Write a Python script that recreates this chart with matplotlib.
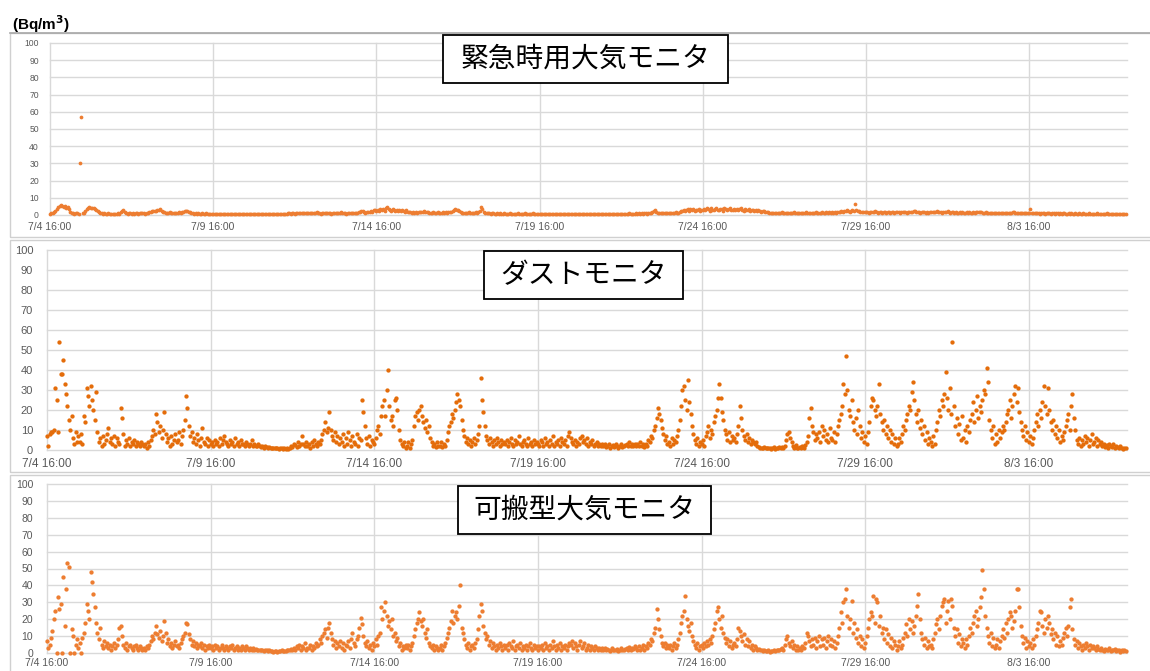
import numpy as np
import matplotlib.pyplot as plt
from matplotlib.patches import Rectangle

# ---- axis labels / titles -------------------------------------------------
tick_days = [0, 5, 10, 15, 20, 25, 30]
tick_labels = ['7/4 16:00', '7/9 16:00', '7/14 16:00', '7/19 16:00',
               '7/24 16:00', '7/29 16:00', '8/3 16:00']
y_ticks = list(range(0, 101, 10))
titles = ['緊急時用大気モニタ', 'ダストモニタ', '可搬型大気モニタ']
unit_label = r'(Bq/m$^{\bf 3}$)'

# ---- hourly concentrations (Bq/m3), one row per day from 7/4 16:00 --------
emergency_air = [
    [0.8, 1, 1.2, 1.5, 2.5, 3.5, 4.5, 5, 5.8, 5, 4.5, 5, 4, 4.5, 3.5, 2, 1.2, 1, 0.8, 1, 1.2, 0.8, 30, 57],
    [1, 1.2, 2.5, 3.5, 4, 4.4, 4, 3.8, 4, 3.5, 3, 2.5, 1.8, 1.2, 1, 0.8, 1, 0.7, 0.8, 1, 0.7, 0.8, 0.6, 0.8],
    [0.8, 0.7, 1, 0.8, 1.5, 2.5, 3, 2, 1, 0.8, 1, 1.2, 0.8, 1, 0.7, 1, 1.2, 0.8, 1, 0.9, 1.2, 1, 0.8, 1],
    [1.2, 1.5, 2, 2.2, 2.5, 2.2, 2.5, 2.8, 3, 3.3, 2.5, 2, 1.5, 1.2, 1, 1.3, 1.5, 1.2, 1, 1.4, 1.2, 1, 1.3, 1.5],
    [1.2, 1.5, 1.8, 2.2, 2.5, 2.3, 2, 1.5, 1.2, 1, 0.8, 1, 0.8, 1, 0.7, 0.8, 1, 0.8, 0.7, 0.9, 0.8, 0.6, 0.8, 0.7],
    [0.7, 0.6, 0.8, 0.5, 0.7, 0.6, 0.8, 0.5, 0.6, 0.7, 0.5, 0.6, 0.8, 0.6, 0.5, 0.7, 0.6, 0.5, 0.7, 0.6, 0.8, 0.5, 0.6, 0.7],
    [0.5, 0.6, 0.7, 0.5, 0.6, 0.5, 0.7, 0.6, 0.5, 0.6, 0.5, 0.7, 0.6, 0.5, 0.6, 0.7, 0.5, 0.6, 0.5, 0.6, 0.7, 0.5, 0.6, 0.5],
    [0.6, 0.5, 0.7, 0.6, 0.8, 0.6, 0.7, 0.9, 1, 0.8, 1.2, 1, 0.8, 1.1, 1.3, 1, 1.2, 0.9, 1.1, 1.4, 1, 1.2, 0.9, 1.1],
    [1, 1.3, 0.9, 1.2, 1.5, 1, 1.2, 0.8, 1.1, 1.4, 1, 1.3, 0.9, 1.2, 1, 0.8, 1.1, 1.3, 1, 1.2, 0.9, 1.1, 1.5, 1.2],
    [1, 1.2, 0.8, 1.1, 1, 1.3, 0.9, 1.2, 1, 1.4, 1.2, 1.5, 2, 2.5, 2.2, 1.5, 1.2, 1.8, 1.5, 2, 2.5, 2, 2.8, 3],
    [2.5, 3, 2.2, 3.5, 2.8, 3.2, 2.5, 3.8, 4.5, 3.5, 3, 2.5, 3.2, 2.8, 2.2, 3, 2.5, 2.8, 2.2, 3, 2.5, 2, 2.8, 2],
    [1.8, 1.5, 1.2, 1.6, 1.3, 1.5, 1.2, 1.8, 1.5, 1.7, 2, 2.2, 1.8, 1.5, 1.6, 1.2, 1.4, 1.1, 1.5, 1.3, 1.2, 1.5, 1.1, 1.3],
    [1.2, 1.5, 1.3, 1.6, 1.4, 1.8, 1.5, 2, 2.5, 3, 3.3, 2.8, 3, 2.2, 1.5, 1.2, 1.3, 1.1, 1.4, 1.2, 1.5, 1.3, 1.2, 1.4],
    [1.3, 1.5, 1.2, 1.6, 2.5, 4.4, 3.5, 1.8, 1.2, 1, 0.9, 1, 0.8, 0.9, 1, 0.8, 0.7, 0.9, 0.8, 1, 0.7, 0.8, 0.9, 0.7],
    [0.8, 0.7, 0.9, 0.6, 0.8, 0.7, 0.6, 0.8, 0.9, 0.7, 0.6, 0.8, 0.7, 0.9, 0.6, 0.7, 0.8, 0.6, 0.7, 0.9, 0.7, 0.6, 0.8, 0.7],
    [0.6, 0.7, 0.5, 0.8, 0.6, 0.7, 0.5, 0.6, 0.8, 0.7, 0.6, 0.5, 0.7, 0.6, 0.8, 0.5, 0.6, 0.7, 0.6, 0.5, 0.7, 0.6, 0.5, 0.6],
    [0.5, 0.6, 0.7, 0.5, 0.6, 0.5, 0.7, 0.6, 0.5, 0.6, 0.7, 0.5, 0.6, 0.5, 0.7, 0.6, 0.5, 0.6, 0.5, 0.7, 0.6, 0.5, 0.6, 0.7],
    [0.6, 0.5, 0.7, 0.6, 0.5, 0.6, 0.7, 0.5, 0.6, 0.8, 0.6, 0.7, 0.5, 0.6, 0.8, 0.7, 0.6, 0.7, 0.9, 0.7, 0.8, 0.6, 0.8, 0.9],
    [0.8, 0.9, 0.7, 1, 0.8, 0.9, 1.1, 0.8, 1, 0.9, 1.2, 1.5, 2.5, 2.9, 2, 1.3, 1.1, 1.4, 1.2, 1, 1.3, 1.1, 1.4, 1.2],
    [1.2, 1.4, 1.1, 1.3, 1.5, 1.2, 1.4, 1.8, 2.2, 2.5, 3, 2.4, 2.8, 3.5, 2.6, 3.2, 2.8, 3.6, 2.5, 3, 2.7, 3.4, 2.6, 3.1],
    [2.8, 3.5, 3, 4, 3.2, 2.6, 3.8, 3.1, 2.7, 3.4, 4.2, 3, 2.8, 3.6, 3.2, 2.5, 3.8, 3.3, 2.9, 3.5, 4, 3.1, 2.7, 3.4],
    [3, 3.6, 2.8, 3.3, 4, 3.1, 2.6, 3.5, 3, 2.8, 3.3, 2.5, 3, 2.7, 2.2, 2.8, 2.5, 3, 2.2, 2, 2.5, 2.2, 2, 1.8],
    [1.5, 1.2, 1.4, 1.1, 1.3, 1, 1.2, 1.4, 1.1, 1.3, 1.5, 1.2, 1, 1.3, 1.1, 1.4, 1.2, 1, 1.3, 1.5, 1.2, 1.1, 1.4, 1.2],
    [1.3, 1.1, 1.4, 1.2, 1.5, 1.3, 1, 1.2, 1.4, 1.1, 1.3, 1.6, 1.2, 1.4, 1.1, 1.3, 1.5, 1.2, 1.4, 1.6, 1.3, 1.5, 1.2, 1.6],
    [1.4, 1.6, 1.3, 1.8, 1.5, 2, 2.2, 1.8, 2.5, 2.2, 2.8, 2.4, 2, 2.6, 3, 2.4, 6.2, 2.8, 2.2, 2.5, 1.8, 1.5, 2, 1.6],
    [1.5, 1.8, 1.4, 1.6, 2, 1.5, 1.7, 2.2, 1.6, 1.4, 1.8, 1.5, 1.3, 1.6, 1.9, 1.4, 1.7, 1.5, 1.3, 1.6, 1.8, 1.4, 1.5, 1.7],
    [1.5, 1.3, 1.7, 1.5, 1.8, 1.6, 1.4, 1.9, 1.7, 2, 1.6, 2.5, 2.2, 1.8, 1.5, 1.7, 1.4, 1.6, 1.8, 1.5, 1.3, 1.6, 1.4, 1.7],
    [1.5, 1.8, 1.6, 2, 2.5, 1.8, 1.5, 1.7, 1.4, 1.6, 2, 1.8, 2.2, 1.6, 1.4, 1.7, 1.5, 1.3, 1.6, 1.4, 1.2, 1.5, 1.3, 1.6],
    [1.4, 1.2, 1.5, 1.3, 1.6, 1.4, 1.2, 1.5, 1.3, 1.6, 1.8, 1.5, 2, 1.7, 1.4, 1.2, 1.5, 1.3, 1.1, 1.4, 1.2, 1.3, 1.1, 1.4],
    [1.2, 1.1, 1.3, 1, 1.2, 1.4, 1.1, 1.3, 1, 1.2, 1.1, 1.3, 1.5, 1.8, 1.3, 1.1, 1.2, 1, 1.3, 1.1, 1.2, 1, 1.3, 1.1],
    [1.2, 3.5, 1.3, 1, 1.2, 0.9, 1.1, 1, 0.8, 1.1, 0.9, 1, 0.8, 1.1, 0.9, 1, 0.8, 0.9, 1, 0.8, 0.9, 1.1, 0.8, 0.9],
    [0.8, 0.9, 1, 0.8, 0.7, 0.9, 0.8, 1, 0.7, 0.8, 0.9, 0.7, 0.8, 1, 0.8, 0.7, 0.9, 0.8, 0.7, 0.8, 0.9, 0.7, 0.8, 0.7],
    [0.8, 0.7, 0.9, 0.6, 0.8, 0.7, 0.6, 0.8, 0.7, 0.9, 0.6, 0.7, 0.8, 0.6, 0.7, 0.8, 0.6, 0.7, 0.8, 0.6, 0.7, 0.6, 0.8, 0.7],
]

dust = [
    [7, 2, 8, 9, 9, 10, 31, 25, 9, 54, 38, 38, 45, 33, 28, 22, 15, 10, 17, 6, 3, 9, 4, 7],
    [4, 8, 3, 17, 14, 31, 27, 22, 32, 25, 20, 15, 29, 9, 4, 6, 2, 7, 3, 5, 8, 11, 4, 6],
    [3, 7, 2, 6, 4, 3, 21, 16, 8, 2, 5, 3, 6, 2, 4, 3, 5, 2, 4, 3, 2, 4, 3, 2],
    [3, 1, 4, 2, 5, 7, 10, 8, 18, 14, 9, 12, 6, 10, 19, 8, 4, 6, 2, 7, 3, 5, 8, 4],
    [5, 9, 3, 7, 10, 15, 27, 21, 12, 7, 9, 4, 6, 3, 8, 5, 2, 6, 11, 4, 3, 6, 2, 5],
    [3, 4, 2, 5, 3, 4, 2, 6, 3, 5, 7, 4, 3, 2, 5, 3, 4, 2, 6, 3, 4, 2, 5, 3],
    [3, 2, 4, 3, 2, 3, 5, 2, 3, 2, 2, 3, 2, 1.5, 2, 1, 2, 1.5, 1, 1.5, 1, 0.8, 1.2, 1],
    [0.8, 1, 0.6, 1.2, 0.8, 0.5, 1, 0.7, 0.9, 0.6, 1.2, 2, 1.5, 3, 2.5, 1.5, 4, 2, 3, 7, 3, 2, 4, 2],
    [3, 1, 4, 2, 5, 3, 2, 4, 3, 5, 8, 10, 14, 9, 11, 19, 10, 7, 5, 9, 4, 7, 3, 6],
    [4, 8, 2, 6, 3, 9, 5, 2, 7, 4, 3, 8, 2, 6, 5, 25, 19, 12, 6, 3, 7, 2, 5, 4],
    [3, 6, 10, 12, 8, 17, 22, 25, 17, 30, 40, 22, 15, 17, 12, 25, 26, 20, 10, 5, 3, 2, 4, 1],
    [2, 4, 1, 3, 5, 12, 17, 19, 15, 20, 22, 17, 14, 11, 15, 9, 12, 6, 4, 2, 3, 1.5, 4, 2],
    [2, 4, 1.5, 3, 2, 5, 9, 12, 14, 18, 16, 20, 24, 28, 25, 22, 15, 10, 7, 4, 6, 3, 5, 2],
    [4, 6, 3, 5, 8, 12, 36, 25, 19, 12, 7, 5, 3, 6, 4, 2, 5, 3, 6, 4, 2, 5, 3, 4],
    [3, 5, 2, 4, 6, 3, 2, 5, 3, 4, 7, 3, 2, 4, 5, 3, 2, 6, 3, 4, 2, 5, 3, 4],
    [3, 2, 5, 4, 2, 6, 3, 4, 2, 5, 3, 7, 2, 4, 3, 5, 2, 6, 4, 3, 5, 2, 7, 9],
    [6, 4, 3, 5, 2, 4, 3, 6, 7, 4, 5, 3, 6, 2, 4, 3, 5, 2, 3, 4, 2, 3, 2, 3],
    [2, 3, 1.5, 2, 3, 1, 2, 2.5, 1.5, 3, 2, 1, 2, 3, 1.5, 2, 2.5, 3, 2, 4, 2, 3, 2, 3],
    [2, 3, 2, 4, 2, 3, 1.5, 3, 2, 5, 4, 7, 6, 10, 12, 16, 21, 18, 15, 11, 8, 5, 7, 3],
    [4, 2, 6, 3, 5, 4, 7, 10, 15, 22, 30, 32, 25, 20, 35, 24, 18, 12, 8, 5, 3, 6, 2, 4],
    [3, 5, 2, 7, 9, 12, 6, 10, 8, 14, 17, 20, 26, 33, 26, 19, 15, 10, 8, 5, 9, 4, 7, 5],
    [6, 4, 8, 12, 22, 16, 10, 7, 5, 8, 4, 6, 3, 5, 4, 3, 4, 2, 1.5, 1, 1.2, 0.8, 1.5, 1],
    [1, 0.8, 1.2, 0.6, 1, 1.5, 0.7, 1, 0.8, 1.3, 0.9, 1.5, 1, 2, 5, 8, 9, 6, 4, 2, 1, 2.5, 1, 0.8],
    [1.5, 0.8, 2, 1, 2.5, 4, 7, 16, 21, 12, 9, 5, 8, 6, 9, 4, 12, 7, 10, 5, 8, 4, 11, 6],
    [5, 9, 4, 8, 12, 15, 18, 22, 33, 28, 47, 30, 20, 17, 25, 14, 10, 16, 8, 20, 12, 6, 9, 4],
    [7, 3, 9, 14, 22, 26, 25, 20, 17, 22, 33, 18, 14, 10, 15, 8, 12, 6, 10, 4, 8, 3, 6, 2],
    [3, 6, 4, 8, 12, 10, 15, 18, 22, 20, 29, 34, 25, 18, 14, 20, 11, 15, 8, 12, 5, 9, 3, 6],
    [4, 2, 7, 3, 10, 14, 20, 17, 25, 22, 28, 39, 26, 20, 31, 18, 54, 22, 12, 16, 8, 13, 5, 17],
    [6, 10, 4, 12, 9, 15, 18, 24, 14, 20, 27, 16, 22, 19, 25, 30, 28, 41, 34, 15, 10, 6, 12, 3],
    [8, 4, 10, 6, 9, 12, 10, 14, 18, 20, 25, 16, 22, 28, 32, 24, 31, 19, 14, 10, 7, 12, 5, 9],
    [4, 7, 3, 6, 10, 14, 18, 12, 20, 16, 24, 32, 22, 18, 31, 20, 14, 10, 15, 8, 12, 6, 10, 4],
    [7, 5, 9, 12, 15, 18, 10, 22, 28, 16, 10, 5, 3, 6, 2, 5, 3, 7, 4, 6, 2, 5, 8, 3],
    [4, 6, 2, 5, 3, 4, 2, 3, 1.5, 2.5, 1, 3, 2, 1.5, 3, 1, 2, 1.5, 0.8, 2, 1, 0.7, 1.2, 0.9],
]

portable_air = [
    [7, 3, 5, 9, 13, 20, 25, 0, 33, 26, 29, 0, 45, 16, 38, 53, 51, 0, 14, 10, 0, 5, 8, 3],
    [6, 0, 9, 12, 18, 29, 25, 20, 48, 42, 35, 27, 18, 12, 8, 15, 5, 3, 7, 4, 6, 3, 5, 2],
    [4, 6, 3, 5, 8, 15, 16, 10, 5, 3, 6, 2, 4, 5, 3, 2, 4, 5, 3, 2, 4, 3, 2, 3],
    [2, 4, 3, 5, 7, 10, 8, 12, 16, 11, 9, 13, 7, 10, 19, 12, 6, 8, 4, 6, 3, 5, 7, 4],
    [5, 3, 6, 8, 10, 12, 18, 17, 11, 8, 5, 7, 4, 6, 3, 5, 4, 6, 3, 5, 2, 4, 3, 5],
    [3, 4, 2, 5, 3, 4, 2, 3, 5, 3, 2, 4, 3, 2, 4, 3, 5, 2, 3, 4, 2, 3, 2, 4],
    [3, 2, 4, 3, 2, 3, 2, 3, 2, 2.5, 2, 1.5, 2, 1.5, 2, 1, 1.5, 2, 1, 1.5, 1, 1.2, 0.8, 1],
    [1, 0.8, 1.2, 1, 1.5, 0.9, 1.3, 1, 1.5, 2, 1.5, 2.5, 2, 3, 2, 4, 3, 5, 2, 4, 3, 6, 2, 3],
    [3, 5, 2, 4, 3, 6, 4, 5, 8, 6, 10, 12, 14, 9, 15, 18, 12, 8, 5, 7, 3, 6, 4, 7],
    [3, 6, 2, 5, 4, 7, 3, 8, 12, 6, 4, 8, 10, 15, 21, 17, 10, 6, 4, 7, 3, 5, 2, 6],
    [4, 8, 5, 10, 12, 27, 20, 25, 30, 22, 16, 19, 14, 20, 10, 12, 7, 9, 4, 6, 2, 4, 3, 5],
    [3, 5, 2, 4, 6, 10, 14, 18, 20, 24, 19, 16, 20, 12, 9, 14, 6, 4, 3, 5, 2, 4, 3, 2],
    [3, 5, 2, 4, 6, 9, 12, 15, 19, 25, 18, 22, 24, 20, 28, 40, 15, 12, 8, 5, 3, 6, 2, 4],
    [5, 3, 6, 8, 14, 22, 29, 25, 16, 12, 8, 10, 5, 7, 3, 6, 4, 2, 5, 3, 6, 4, 2, 5],
    [3, 5, 2, 6, 4, 3, 7, 2, 4, 5, 3, 6, 2, 4, 3, 5, 2, 4, 6, 3, 2, 5, 3, 4],
    [2, 4, 3, 5, 2, 6, 3, 4, 2, 5, 3, 7, 4, 2, 5, 3, 6, 2, 4, 3, 5, 2, 4, 6],
    [5, 7, 3, 6, 4, 2, 5, 7, 3, 4, 6, 2, 3, 5, 2, 4, 3, 2, 4, 3, 2, 3, 2, 3],
    [2, 3, 1.5, 2.5, 2, 1, 3, 2, 1.5, 2, 2.5, 1, 2, 3, 1.5, 2, 2.5, 3, 2, 3.5, 2, 3, 2.5, 4],
    [3, 2, 4, 2, 3, 5, 2, 4, 3, 6, 5, 8, 7, 12, 15, 26, 20, 14, 10, 6, 4, 6, 3, 5],
    [3, 5, 2, 4, 6, 3, 5, 8, 12, 18, 22, 25, 34, 20, 16, 13, 18, 10, 7, 5, 3, 6, 2, 4],
    [5, 3, 6, 4, 7, 5, 8, 6, 10, 14, 18, 25, 27, 20, 15, 22, 12, 9, 6, 8, 4, 7, 3, 5],
    [6, 4, 8, 15, 13, 10, 7, 11, 5, 8, 4, 7, 3, 5, 2, 4, 3, 2, 2.5, 1.5, 2, 1, 1.5, 1.2],
    [1, 1.5, 0.8, 1.2, 1, 1.8, 1.2, 1.5, 2, 1.5, 2.5, 3, 2, 5, 8, 10, 6, 4, 7, 3, 5, 2, 4, 2],
    [3, 2, 4, 3, 6, 12, 10, 7, 4, 8, 5, 9, 3, 7, 10, 4, 8, 5, 9, 3, 7, 10, 5, 8],
    [4, 7, 3, 6, 10, 15, 24, 18, 30, 32, 38, 22, 15, 20, 31, 12, 18, 9, 14, 6, 10, 4, 8, 3],
    [6, 10, 15, 20, 24, 22, 34, 18, 32, 30, 16, 22, 12, 15, 8, 14, 6, 11, 4, 9, 3, 7, 5, 2],
    [4, 7, 3, 5, 9, 12, 17, 10, 20, 14, 19, 12, 16, 22, 28, 35, 20, 12, 8, 5, 9, 3, 7, 4],
    [5, 3, 8, 12, 17, 20, 14, 22, 28, 30, 32, 18, 25, 31, 20, 32, 28, 15, 10, 14, 6, 11, 4, 8],
    [6, 3, 8, 5, 10, 15, 12, 18, 22, 25, 16, 20, 27, 33, 49, 38, 22, 15, 10, 6, 12, 4, 9, 3],
    [5, 8, 3, 7, 10, 14, 9, 18, 12, 20, 24, 22, 15, 19, 25, 38, 38, 27, 16, 10, 6, 9, 3, 7],
    [4, 6, 3, 8, 5, 10, 14, 18, 25, 24, 16, 12, 20, 15, 22, 18, 11, 14, 8, 12, 5, 10, 4, 7],
    [5, 9, 12, 15, 10, 16, 27, 32, 14, 8, 5, 7, 3, 6, 4, 2, 5, 3, 6, 4, 2, 5, 3, 4],
    [3, 2, 4, 2.5, 1.5, 3, 2, 1, 2.5, 1.5, 2, 3, 1, 2, 1.5, 2.5, 1, 2, 1.5, 0.8, 2, 1, 1.5, 1],
]

for rows in (emergency_air, dust, portable_air):
    assert all(len(r) == 24 for r in rows)

# ---- figure ---------------------------------------------------------------
W, H = 1150, 671
fig = plt.figure(figsize=(W / 100, H / 100), dpi=100)
fig.patch.set_facecolor('white')


def px_rect(x0, y0, x1, y1):
    """Figure-fraction rectangle from pixel corners (origin top-left)."""
    return [x0 / W, 1 - y1 / H, (x1 - x0) / W, (y1 - y0) / H]


# outer chart frames
for (x0, y0, x1, y1), ec in [((10, 33, 1160, 237), '#d0d0d0'),
                             ((10, 240, 1160, 472), '#d0d0d0'),
                             ((10, 475, 1160, 690), '#d0d0d0')]:
    l, b, w, h = px_rect(x0, y0, x1, y1)
    fig.patches.append(Rectangle((l, b), w, h, transform=fig.transFigure,
                                 fill=False, edgecolor=ec, linewidth=1.0))
fig.add_artist(plt.Line2D([10 / W, 1], [1 - 33 / H, 1 - 33 / H],
                          transform=fig.transFigure, color='#a8a8a8', lw=1.2))

fig.text(12 / W, 1 - 24 / H, unit_label, fontsize=11, fontweight='bold',
         family='Liberation Sans', ha='left', va='center', color='black')

panels = [
    dict(data=emergency_air, rect=(50, 43, 1127, 215), color='#ED7D31',
         ysize=6.2, xsize=7.5, ypad=8, xpad=5, ms=2.7,
         box=(443, 35, 728, 83)),
    dict(data=dust, rect=(47, 250, 1127, 450), color='#E46C0A',
         ysize=8, xsize=8.5, ypad=10, xpad=6, ms=3.1,
         box=(484, 251, 683, 299)),
    dict(data=portable_air, rect=(47, 484, 1127, 653), color='#ED7D31',
         ysize=7.5, xsize=7.5, ypad=10, xpad=3.5, ms=3.1,
         box=(458, 486, 711, 534)),
]

for p, title in zip(panels, titles):
    ax = fig.add_axes(px_rect(*p['rect']))
    values = np.concatenate([np.asarray(r, dtype=float) for r in p['data']])
    t = np.arange(values.size) / 24.0

    ax.set_xlim(0, 33)
    ax.set_ylim(0, 100)
    ax.set_xticks(tick_days)
    ax.set_xticklabels(tick_labels)
    ax.set_yticks(y_ticks)
    ax.grid(True, color='#d9d9d9', linewidth=1.0)
    ax.set_axisbelow(True)
    for gl in ax.get_xgridlines() + ax.get_ygridlines():
        gl.set_clip_on(False)
    for s in ax.spines.values():
        s.set_visible(False)
    ax.tick_params(axis='both', length=0, colors='#595959')
    ax.tick_params(axis='y', labelsize=p['ysize'], pad=p['ypad'])
    ax.tick_params(axis='x', labelsize=p['xsize'], pad=p['xpad'])
    for lab in ax.get_xticklabels() + ax.get_yticklabels():
        lab.set_family('Liberation Sans')

    ax.plot(t, values, linestyle='none', marker='o', markersize=p['ms'],
            markeredgewidth=0, color=p['color'], clip_on=False, zorder=3)

    # boxed panel title
    x0, y0, x1, y1 = p['box']
    l, b, w, h = px_rect(x0, y0, x1, y1)
    fig.patches.append(Rectangle((l, b), w, h, transform=fig.transFigure,
                                 facecolor='white', edgecolor='black',
                                 linewidth=1.3, zorder=5))
    fig.text(l + w / 2, b + h / 2, title, fontsize=20,
             family=['Noto Sans CJK JP', 'DejaVu Sans'],
             ha='center', va='center', color='black', zorder=6)

fig.savefig('out.png', dpi=100, facecolor='white')
